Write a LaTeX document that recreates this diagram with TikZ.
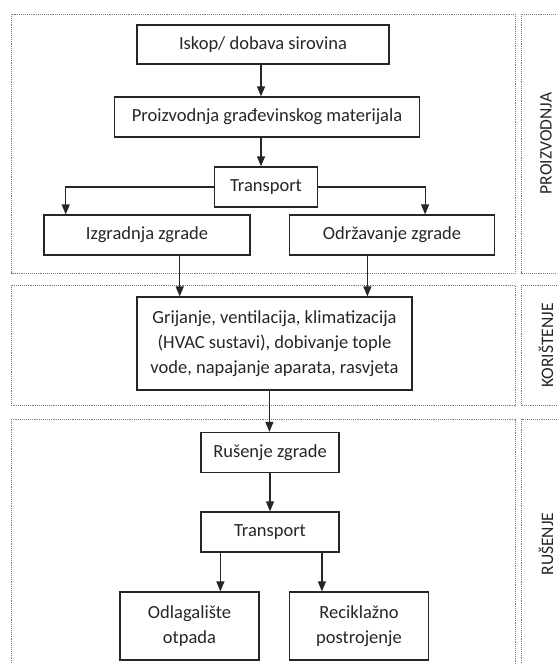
\documentclass[tikz,border=0pt]{standalone}
\usepackage{fontspec}
\setmainfont{Carlito}
\usetikzlibrary{arrows.meta,calc}
\definecolor{ink}{HTML}{262626}
\definecolor{framec}{HTML}{7A7A7A}
\tikzset{
  stepbox/.style={draw=ink, line width=1.2pt, text=ink, inner sep=0pt, align=center,
    font=\fontsize{18.5}{25}\selectfont},
  frm/.style={draw=framec, line width=0.9pt, densely dotted},
  lbl/.style={text=ink, rotate=90, font=\fontsize{17.5}{20}\selectfont},
  arr/.style={draw=ink, line width=1.2pt, -{Triangle[length=10pt,width=8pt]}},
}
\begin{document}
\begin{tikzpicture}[x=1pt,y=-1pt]
\useasboundingbox (0,0) rectangle (557,664);
\clip (0,0) rectangle (557,664);
% frames
\draw[frm] (11.7,14) rectangle (515,273);
\draw[frm] (11.7,285) rectangle (515,405.7);
\draw[frm] (11.7,419) rectangle (515,669);
\draw[frm] (521,14) rectangle (570,273);
\draw[frm] (521,285) rectangle (570,405.7);
\draw[frm] (521,419) rectangle (570,669);
\node[lbl] (lp) at (546,143.5) {PROIZVODNJA};
\node[lbl] (lk) at (546,345.3) {KORIŠTENJE};
\node[lbl] (lr) at (546,544) {RUŠENJE};
% boxes
\node[stepbox, minimum width=252pt, minimum height=39pt] (iskop) at (263,44.5) {Iskop/ dobava sirovina};
\node[stepbox, minimum width=305pt, minimum height=40pt] (proiz) at (267,117) {Proizvodnja građevinskog materijala};
\node[stepbox, minimum width=103pt, minimum height=40pt] (t1) at (266,187) {Transport};
\node[stepbox, minimum width=206pt, minimum height=40pt] (izgr) at (147,235) {Izgradnja zgrade};
\node[stepbox, minimum width=205pt, minimum height=40pt] (odrz) at (392,235) {Održavanje zgrade};
\node[stepbox, minimum width=275pt, minimum height=93pt] (hvac) at (274.5,343.5) {Grijanje, ventilacija, klimatizacija\\(HVAC sustavi), dobivanje tople\\vode, napajanje aparata, rasvjeta};
\node[stepbox, minimum width=138pt, minimum height=40pt] (rus) at (270,452.5) {Rušenje zgrade};
\node[stepbox, minimum width=138pt, minimum height=40pt] (t2) at (270,532) {Transport};
\node[stepbox, minimum width=139pt, minimum height=68pt] (odl) at (189.5,626) {Odlagalište\\otpada};
\node[stepbox, minimum width=139pt, minimum height=68pt] (rec) at (359,626) {Reciklažno\\postrojenje};
% connectors
\draw[arr] ($(iskop.south)+(-2,0)$) -- ($(iskop.south |- proiz.north)+(-2,0)$);
\draw[arr] ($(proiz.south)+(-6,0)$) -- ($(proiz.south |- t1.north)+(-6,0)$);
\draw[arr] (t1.west) -| ($(izgr.north west)+(22.3,0)$);
\draw[arr] (t1.east) -| ($(odrz.north east)+(-70,0)$);
\draw[arr] ($(izgr.south west)+(136.3,0)$) -- ($(izgr.south west |- hvac.north)+(136.3,0)$);
\draw[arr] ($(odrz.south west)+(78.5,0)$) -- ($(odrz.south west |- hvac.north)+(78.5,0)$);
\draw[arr] ($(hvac.south west)+(133,0)$) -- ($(hvac.south west |- rus.north)+(133,0)$);
\draw[arr] (rus.south) -- (t2.north);
\draw[arr] ($(t2.south west)+(20,0)$) -- ($(t2.south west |- odl.north)+(20,0)$);
\draw[arr] ($(t2.south west)+(121.5,0)$) -- ($(t2.south west |- rec.north)+(121.5,0)$);
\end{tikzpicture}
\end{document}
